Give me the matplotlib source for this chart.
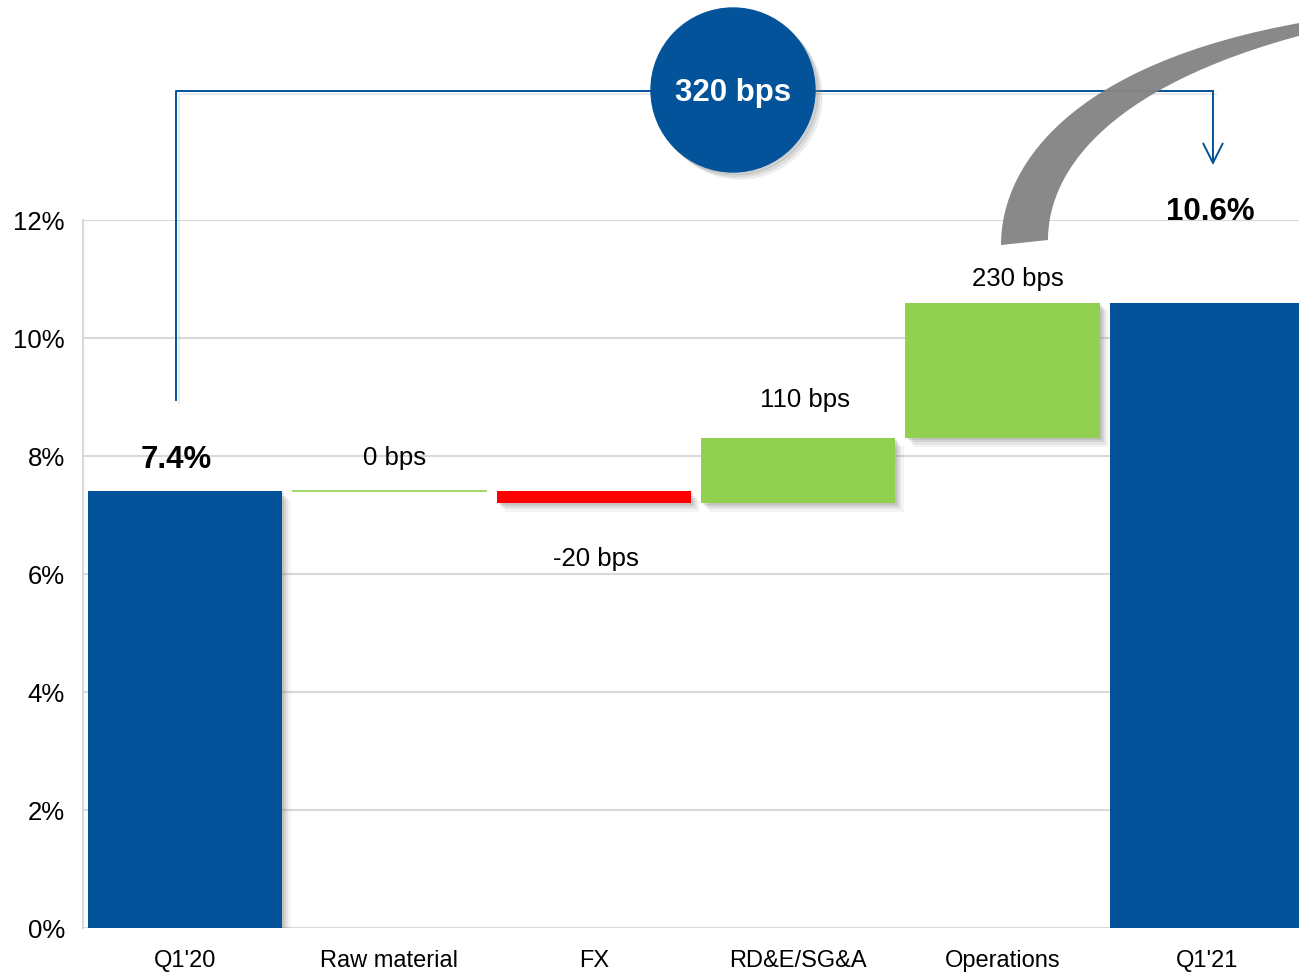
import matplotlib
matplotlib.use("Agg")
import matplotlib.pyplot as plt
import matplotlib.patheffects as pe
from matplotlib.patches import Ellipse, PathPatch
from matplotlib.path import Path
import numpy as np

plt.rcParams['font.family'] = ['Liberation Sans', 'DejaVu Sans']

# data
categories = ["Q1'20", "Raw material", "FX", "RD&E/SG&A", "Operations", "Q1'21"]
start_margin = 7.4          # %
changes_bps = [0, -20, 110, 230]
end_margin = 10.6           # %
total_bps = 320
yticks = [0, 2, 4, 6, 8, 10, 12]

BLUE = '#02539A'
GREEN = '#92D050'
RED = '#FF0000'
GRID = '#D9D9D9'

# waterfall geometry from the data
changes = np.array(changes_bps) / 100.0
levels = start_margin + np.concatenate([[0], np.cumsum(changes)])
bottoms = [0] + list(np.minimum(levels[:-1], levels[1:])) + [0]
heights = [start_margin] + list(np.abs(changes)) + [end_margin]
colors = [BLUE] + [GREEN if c >= 0 else RED for c in changes] + [BLUE]
edges = [0] + [1.2 if c == 0 else 0 for c in changes] + [0]

W, H = 1299, 973
fig = plt.figure(figsize=(W / 100, H / 100), dpi=100)
ax = fig.add_axes([83 / W, 45 / H, 1226 / W, 708 / H])

# soft shadow: a few stacked translucent copies
soft_shadow = [pe.SimplePatchShadow(offset=(o, -o), shadow_rgbFace='#7a7a7a', alpha=a)
               for o, a in [(6, 0.08), (4.5, 0.12), (3, 0.16), (1.5, 0.2)]] + [pe.Normal()]

x = np.arange(len(categories))
bars = ax.bar(x, heights, bottom=bottoms, width=0.95, color=colors,
              edgecolor=colors, linewidth=edges, zorder=3)
for i, b in enumerate(bars):
    if heights[i] > 0:
        b.set_path_effects(soft_shadow)

ax.set_xlim(-0.5, len(categories) - 0.5)
ax.set_ylim(0, 12)
ax.set_yticks(yticks)
ax.set_yticklabels([f'{t}%' for t in yticks], fontsize=18.5)
ax.set_xticks(x)
ax.set_xticklabels(categories, fontsize=17)
ax.tick_params(axis='y', length=0, pad=13)
ax.tick_params(axis='x', length=0, pad=16)
ax.grid(axis='y', color=GRID, linewidth=1.5, zorder=0)
for s in ['top', 'right', 'bottom']:
    ax.spines[s].set_visible(False)
ax.spines['left'].set_color(GRID)
ax.spines['left'].set_linewidth(1.5)

# value labels
labels = [f'{start_margin}%'] + [f'{c} bps' for c in changes_bps] + [f'{end_margin}%']
bold = [True, False, False, False, False, True]
offsets = [(-9, 23), (5, 26), (2, -63), (7, 31), (15, 17), (3, 83)]
for i in range(len(categories)):
    top = bottoms[i] + heights[i]
    anchor_y = bottoms[i] if (0 < i < len(categories) - 1 and changes[i - 1] < 0) else top
    ax.annotate(labels[i], (x[i], anchor_y), xytext=offsets[i], textcoords='offset pixels',
                ha='center', va='baseline', fontsize=22.5 if bold[i] else 18.5,
                fontweight='bold' if bold[i] else 'normal', annotation_clip=False, zorder=6)

# bracket from Q1'20 to Q1'21
line_fx = [pe.SimpleLineShadow(offset=(2, -2), shadow_color='#aaaaaa', alpha=0.25), pe.Normal()]
ax.plot([-0.044, -0.044, 5.03], [8.95, 14.19, 14.19], color=BLUE, lw=1.4,
        clip_on=False, zorder=4, path_effects=line_fx)
ax.annotate('', xy=(5.03, 12.93), xytext=(5.03, 14.19),
            arrowprops=dict(arrowstyle='->,head_length=1.4,head_width=0.7', color=BLUE, lw=1.4,
                            shrinkA=0, shrinkB=0),
            annotation_clip=False, zorder=4)

# circle with total change
cx, cy, r = 733, 90, 82
for o, a in [(7, 0.1), (5, 0.15), (3, 0.2)]:
    fig.patches.append(Ellipse(((cx + o) / W, 1 - (cy + o) / H), 2 * r / W, 2 * r / H,
                               transform=fig.transFigure, color='#888888', alpha=a, zorder=5))
fig.patches.append(Ellipse((cx / W, 1 - cy / H), 2 * r / W, 2 * r / H,
                           transform=fig.transFigure, color=BLUE, zorder=6))
fig.text(cx / W, 1 - (cy + 3) / H, f'{total_bps} bps', color='white', fontsize=22.5,
         fontweight='bold', ha='center', va='center', zorder=7)

# grey swoosh arrow (pixel coordinates -> figure fraction)
outer = [(1001, 245), (1001, 160), (1080, 55), (1330, 18)]
inner = [(1330, 28), (1110, 80), (1048, 170), (1048, 240)]
pts = outer + inner + [outer[0]]
pts = [(px / W, 1 - py / H) for px, py in pts]
codes = [Path.MOVETO, Path.CURVE4, Path.CURVE4, Path.CURVE4,
         Path.LINETO, Path.CURVE4, Path.CURVE4, Path.CURVE4, Path.CLOSEPOLY]
fig.patches.append(PathPatch(Path(pts, codes), transform=fig.transFigure,
                             facecolor='#858585', edgecolor='none', alpha=0.97, zorder=5))

fig.savefig('out.png', dpi=100, facecolor='white')
